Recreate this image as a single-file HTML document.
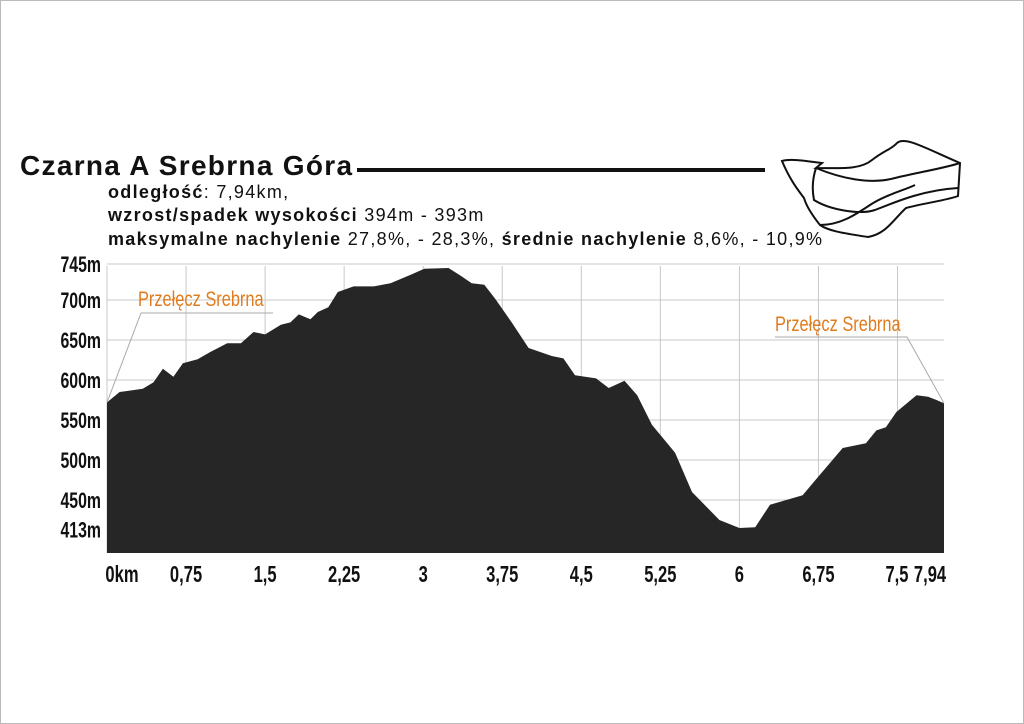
<!DOCTYPE html>
<html><head><meta charset="utf-8">
<style>
body{margin:0;background:#fff;}
#page{position:relative;width:1024px;height:724px;overflow:hidden;background:#fff;font-family:"Liberation Sans",sans-serif;}
#frame{position:absolute;left:0;top:0;width:1022px;height:722px;border:1px solid #bbb;}
.title{position:absolute;left:20px;top:150px;font-size:28px;letter-spacing:1.3px;font-weight:bold;color:#111;}
.info{position:absolute;left:108px;font-size:18px;letter-spacing:1.3px;color:#111;white-space:nowrap;}
</style></head>
<body>
<div id="page">
<div id="frame"></div>
<div class="title">Czarna A Srebrna Góra</div>
<div style="position:absolute;left:357px;top:168px;width:408px;height:4px;background:#111"></div>
<div class="info" style="top:182px"><b>odległość</b>: 7,94km,</div>
<div class="info" style="top:205px"><b>wzrost/spadek wysokości</b> 394m - 393m</div>
<div class="info" style="top:229px"><b>maksymalne nachylenie</b> 27,8%, - 28,3%, <b>średnie nachylenie</b> 8,6%, - 10,9%</div>
<svg style="position:absolute;left:0;top:0" width="1024" height="724">
<g fill="none" stroke="#111" stroke-width="2">
<path d="M782,161 C792,158 812,162 822,163 L816,168 C840,168 860,170 872,160 C885,150 892,149 897,143 C905,136 925,148 960,163 L958,196 C948,200 925,203 906,208 C893,220 886,234 868,237 C850,234 830,232 820,225 C812,215 806,205 804,198 C798,190 790,180 782,161Z"/>
<path d="M816,168 C812,180 812,190 814,200 C830,210 860,215 875,210 C900,200 925,190 958,188"/>
<path d="M816,168 C840,178 870,185 895,178 C920,172 945,168 960,163"/>
<path d="M820,225 C840,225 855,215 870,205 C885,195 905,190 915,185"/>
</g>
</svg>
<svg id="chart" style="position:absolute;left:0;top:0" width="1024" height="724"></svg>
</div>
<script>
const distances=[0,0.12,0.34,0.44,0.53,0.63,0.72,0.86,0.98,1.14,1.27,1.39,1.50,1.65,1.74,1.82,1.93,2.0,2.1,2.19,2.34,2.53,2.69,2.89,3.01,3.24,3.36,3.46,3.58,3.68,3.84,4.0,4.22,4.33,4.44,4.64,4.76,4.91,5.03,5.17,5.39,5.55,5.81,6.0,6.15,6.29,6.6,6.76,6.98,7.2,7.3,7.39,7.49,7.68,7.79,7.87,7.94];
const elevations=[572,585,589,597,614,604,621,626,635,646,646,660,657,669,672,682,676,685,691,710,717,717,721,732,739,740,730,721,719,702,672,640,630,627,606,602,590,599,581,544,509,460,425,415,416,444,456,481,515,521,537,541,560,581,579,575,571];
const yTicks=[745,700,650,600,550,500,450,413];
const xTicks=[0,0.75,1.5,2.25,3,3.75,4.5,5.25,6,6.75,7.5,7.94];
const xLabels=["0km","0,75","1,5","2,25","3","3,75","4,5","5,25","6","6,75","7,5","7,94"];
const labelTexts=["Przełęcz Srebrna","Przełęcz Srebrna"];
const NS="http://www.w3.org/2000/svg";
const svg=document.getElementById('chart');
const X0=107,KX=105.4,Y0=380,KY=0.8,BOT=553,RIGHT=944;
function sx(d){return X0+d*KX;}
function sy(e){return Y0-(e-600)*KY;}
function mk(t,a){const e=document.createElementNS(NS,t);for(const k in a)e.setAttribute(k,a[k]);svg.appendChild(e);return e;}
const SC=0.72;
for(let i=0;i<yTicks.length;i++){
 const l=mk('line',{x1:X0,x2:RIGHT,y1:sy(yTicks[i]),y2:sy(yTicks[i]),stroke:'#c8c8c8','stroke-width':1});
 
 
 const t=mk('text',{x:101/SC,y:sy(yTicks[i])+8,'text-anchor':'end','font-size':22,'font-weight':'bold','font-family':'Liberation Sans, sans-serif',fill:'#111',transform:`scale(${SC},1)`});
 t.textContent=yTicks[i]+'m';
 
 
}
for(let i=0;i<xTicks.length-1;i++){
 const l=mk('line',{x1:sx(xTicks[i]),x2:sx(xTicks[i]),y1:266,y2:BOT,stroke:'#c8c8c8','stroke-width':1});
 
 
}
let d=`M${sx(distances[0])},${BOT}`;
for(let i=0;i<distances.length;i++)d+=` L${sx(distances[i]).toFixed(1)},${sy(elevations[i]).toFixed(1)}`;
d+=` L${RIGHT},${sy(elevations[elevations.length-1]).toFixed(1)} L${RIGHT},${BOT} Z`;
const area=mk('path',{d:d,fill:'#262626','stroke-linejoin':'round'});


for(let i=0;i<xTicks.length;i++){
 let cx=sx(xTicks[i]);
 if(i==0)cx=122; if(i==xTicks.length-1)cx=930; if(i==xTicks.length-2)cx=897;
 const t=mk('text',{x:cx/SC,y:582,'text-anchor':'middle','font-size':23,'font-weight':'bold','font-family':'Liberation Sans, sans-serif',fill:'#111',transform:`scale(${SC},1)`});
 t.textContent=xLabels[i];
 
 
}
const l1=mk('polyline',{points:`${sx(0)},${sy(elevations[0])} 141,313 273,313`,fill:'none',stroke:'#aaa','stroke-width':1});


const l2=mk('polyline',{points:`775,337 907,337 ${RIGHT},${sy(elevations[elevations.length-1])}`,fill:'none',stroke:'#aaa','stroke-width':1});


const a1=mk('text',{x:138/0.78,y:306,'font-size':21,'font-family':'Liberation Sans, sans-serif',fill:'#e07b1e',transform:'scale(0.78,1)'});
a1.textContent=labelTexts[0];


const a2=mk('text',{x:775/0.78,y:331,'font-size':21,'font-family':'Liberation Sans, sans-serif',fill:'#e07b1e',transform:'scale(0.78,1)'});
a2.textContent=labelTexts[1];


</script>
</body></html>
